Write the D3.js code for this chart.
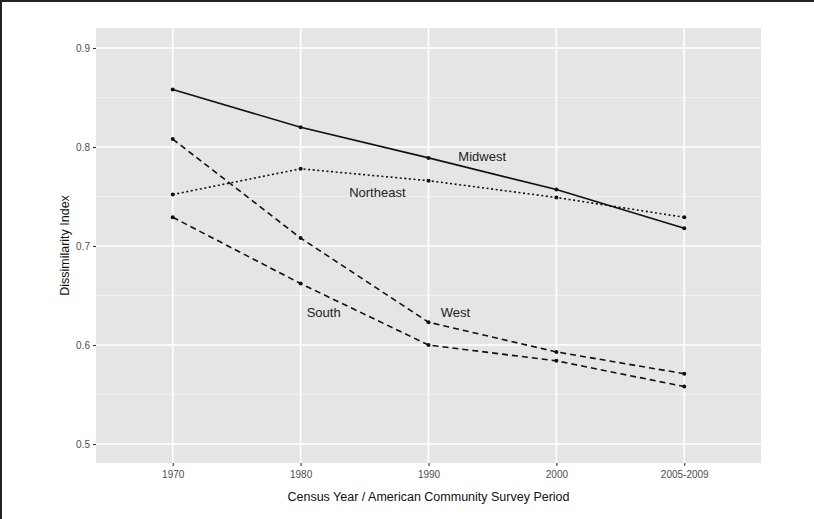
<!DOCTYPE html>
<html>
<head>
<meta charset="utf-8">
<script src="https://cdn.jsdelivr.net/npm/d3@7"></script>
<style>
  body { margin: 0; background: #fff; }
  svg { display: block; font-family: "Liberation Sans", Arial, sans-serif; }
</style>
</head>
<body>
<div id="chart"></div>
<script>
// categories on the x axis
var periods = ["1970", "1980", "1990", "2000", "2005-2009"];

// dissimilarity index per region
var midwest   = [0.858, 0.820, 0.789, 0.757, 0.718];
var northeast = [0.752, 0.778, 0.766, 0.749, 0.729];
var south     = [0.729, 0.662, 0.600, 0.584, 0.558];
var west      = [0.808, 0.708, 0.623, 0.593, 0.571];

var yTicks = [0.5, 0.6, 0.7, 0.8, 0.9];
var yMinor = [0.55, 0.65, 0.75, 0.85];

// label positions: fractional category index + value
var regionLabels = [
    { name: "Midwest",   idx: 2.42, value: 0.790 },
    { name: "Northeast", idx: 1.60, value: 0.7545 },
    { name: "South",     idx: 1.18, value: 0.633 },
    { name: "West",      idx: 2.21, value: 0.633 }
];

var series = [
    { name: "Midwest",   values: midwest,   dash: null },
    { name: "Northeast", values: northeast, dash: "2,2.6" },
    { name: "South",     values: south,     dash: "6,4" },
    { name: "West",      values: west,      dash: "6,4" }
];

var width = 814, height = 519;
var panel = { left: 96, right: 761, top: 28, bottom: 463 };

var svg = d3.select('#chart')
    .append('svg')
    .attr('width', width)
    .attr('height', height);

var x = d3.scalePoint()
    .domain(periods)
    .range([panel.left, panel.right])
    .padding(0.6);

var y = d3.scaleLinear()
    .domain([0.5 - 19 / 990, 0.5 + 416 / 990])
    .range([panel.bottom, panel.top]);

function xIdx(i) { return x(periods[0]) + i * x.step() }

// panel background
svg.append('rect')
    .attr('x', panel.left)
    .attr('y', panel.top)
    .attr('width', panel.right - panel.left)
    .attr('height', panel.bottom - panel.top)
    .style('fill', '#e5e5e5');

// minor grid
svg.append('g').selectAll('line')
    .data(yMinor)
    .enter()
    .append('line')
    .attr('x1', panel.left).attr('x2', panel.right)
    .attr('y1', function(d) { return y(d) })
    .attr('y2', function(d) { return y(d) })
    .style('stroke', '#f4f4f4')
    .style('stroke-width', 0.8);

// major grid
svg.append('g').selectAll('line')
    .data(yTicks)
    .enter()
    .append('line')
    .attr('x1', panel.left).attr('x2', panel.right)
    .attr('y1', function(d) { return y(d) })
    .attr('y2', function(d) { return y(d) })
    .style('stroke', '#fff')
    .style('stroke-width', 1.6);

svg.append('g').selectAll('line')
    .data(periods)
    .enter()
    .append('line')
    .attr('y1', panel.top).attr('y2', panel.bottom)
    .attr('x1', function(d) { return x(d) })
    .attr('x2', function(d) { return x(d) })
    .style('stroke', '#fff')
    .style('stroke-width', 1.6);

// axes
var yAxisG = svg.append('g')
    .attr('transform', 'translate(' + panel.left + ',0)')
    .call(d3.axisLeft(y).tickValues(yTicks).tickSize(3).tickPadding(3).tickFormat(d3.format('.1f')));

var xAxisG = svg.append('g')
    .attr('transform', 'translate(0,' + panel.bottom + ')')
    .call(d3.axisBottom(x).tickSize(3).tickPadding(5));

[yAxisG, xAxisG].forEach(function(g) {
    g.attr('font-size', 10).attr('font-family', '"Liberation Sans", Arial, sans-serif');
    g.select('.domain').remove();
    g.selectAll('.tick line').style('stroke', '#333').style('stroke-width', 1.1);
    g.selectAll('.tick text').style('fill', '#4d4d4d');
});

// lines
var line = d3.line()
    .x(function(d, i) { return x(periods[i]) })
    .y(function(d) { return y(d) });

svg.append('g').selectAll('path')
    .data(series)
    .enter()
    .append('path')
    .attr('d', function(d) { return line(d.values) })
    .style('fill', 'none')
    .style('stroke', '#111')
    .style('stroke-width', 1.6)
    .style('stroke-dasharray', function(d) { return d.dash });

// points
series.forEach(function(s) {
    svg.append('g').selectAll('circle')
        .data(s.values)
        .enter()
        .append('circle')
        .attr('cx', function(d, i) { return x(periods[i]) })
        .attr('cy', function(d) { return y(d) })
        .attr('r', 2)
        .style('fill', '#111');
});

// region labels
svg.append('g').selectAll('text')
    .data(regionLabels)
    .enter()
    .append('text')
    .attr('x', function(d) { return xIdx(d.idx) })
    .attr('y', function(d) { return y(d.value) })
    .attr('dy', '0.35em')
    .attr('text-anchor', 'middle')
    .style('font-size', '13px')
    .style('fill', '#222')
    .text(function(d) { return d.name });

// axis titles
svg.append('text')
    .attr('x', (panel.left + panel.right) / 2)
    .attr('y', 501)
    .attr('text-anchor', 'middle')
    .style('font-size', '12.5px')
    .style('fill', '#111')
    .text('Census Year / American Community Survey Period');

svg.append('text')
    .attr('transform', 'translate(69,' + (panel.top + panel.bottom) / 2 + ') rotate(-90)')
    .attr('text-anchor', 'middle')
    .style('font-size', '12.5px')
    .style('fill', '#111')
    .text('Dissimilarity Index');

// frame on top and left edges
svg.append('path')
    .attr('d', 'M1,' + height + 'V1H' + width)
    .style('fill', 'none')
    .style('stroke', '#222')
    .style('stroke-width', 2);
</script>
</body>
</html>
